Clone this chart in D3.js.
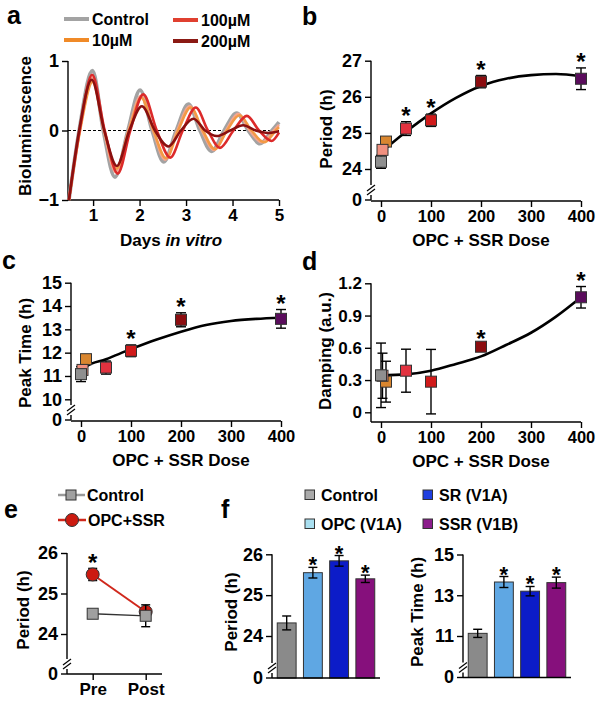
<!DOCTYPE html>
<html>
<head>
<meta charset="utf-8">
<script src="https://cdn.jsdelivr.net/npm/d3@7"></script>
<style>
  body { margin: 0; background: #fff; }
  text { font-family: "Liberation Sans", Arial, sans-serif; font-weight: bold; fill: #000; }
</style>
</head>
<body>
<svg id="fig" width="601" height="708"></svg>
<script>
// panel a - detrended bioluminescence traces, [day, value]
const traceControl = [[0.48,-1.0],[0.7,0],[0.985,0.86],[1.22,0],[1.47,-0.67],[1.75,0],[2.01,0.58],[2.27,0],[2.52,-0.45],[2.79,0],[3.05,0.38],[3.3,0],[3.55,-0.3],[3.82,0],[4.09,0.25],[4.34,0],[4.59,-0.19],[4.85,0],[5.0,0.12]];
const traceLow = [[0.48,-1.0],[0.71,0],[0.98,0.76],[1.23,0],[1.49,-0.6],[1.76,0],[2.03,0.5],[2.29,0],[2.55,-0.42],[2.81,0],[3.08,0.35],[3.34,0],[3.6,-0.28],[3.86,0],[4.12,0.24],[4.37,0],[4.63,-0.17],[4.89,0],[5.0,0.08]];
const trace10 = [[0.48,-1.0],[0.72,0],[0.99,0.7],[1.24,0],[1.5,-0.55],[1.77,0],[2.04,0.47],[2.3,0],[2.57,-0.4],[2.83,0],[3.1,0.33],[3.36,0],[3.62,-0.27],[3.88,0],[4.15,0.22],[4.41,0],[4.68,-0.17],[4.93,0],[5.0,0.05]];
const trace100 = [[0.48,-1.0],[0.71,0],[0.98,0.8],[1.25,0],[1.53,-0.62],[1.8,0],[2.08,0.52],[2.37,0],[2.66,-0.39],[2.93,0],[3.21,0.33],[3.47,0],[3.73,-0.25],[4.02,0],[4.31,0.21],[4.57,0],[4.84,-0.15],[5.0,-0.03]];
const trace200 = [[0.48,-1.0],[0.7,0],[0.97,0.73],[1.24,0],[1.51,-0.51],[1.78,0],[2.05,0.35],[2.33,0],[2.62,-0.23],[2.89,0],[3.16,0.17],[3.41,0],[3.66,-0.08],[3.95,0],[4.23,0.075],[4.5,0],[4.77,-0.035],[5.0,-0.01]];
const legendA = ["Control", "10\u00b5M", "100\u00b5M", "200\u00b5M"];

// panels b-d - dose response
const doses = [0, 3, 10, 50, 100, 200, 400];
const periodMean = [24.2, 24.53, 24.76, 25.12, 25.35, 26.42, 26.5];
const periodSem = [0.18, 0.1, 0.08, 0.19, 0.17, 0.17, 0.3];
const periodSig = [0, 0, 0, 1, 1, 1, 1];
const periodFitDose = [12, 50, 100, 150, 200, 250, 300, 350, 400];
const periodFit = [24.6, 25.03, 25.54, 25.97, 26.3, 26.5, 26.6, 26.63, 26.57];

const peakMean = [11.08, 11.26, 11.72, 11.36, 12.08, 13.41, 13.45];
const peakSem = [0.32, 0.15, 0.1, 0.28, 0.25, 0.3, 0.4];
const peakSig = [0, 0, 0, 0, 1, 1, 1];
const peakFitDose = [5, 10, 50, 100, 150, 200, 250, 300, 350, 400];
const peakFit = [11.3, 11.4, 11.72, 12.15, 12.55, 12.9, 13.19, 13.36, 13.45, 13.5];

const dampMean = [0.344, 0.34, 0.285, 0.387, 0.285, 0.61, 1.07];
const dampSem = [0.3, 0.21, 0.19, 0.2, 0.3, 0.02, 0.1];
const dampSig = [0, 0, 0, 0, 0, 1, 1];
const dampFitDose = [0, 50, 100, 150, 200, 250, 300, 350, 400];
const dampFit = [0.344, 0.353, 0.387, 0.45, 0.52, 0.626, 0.74, 0.89, 1.07];

// panel e - pre / post washout
const epochs = ["Pre", "Post"];
const ctrlPeriod = [24.5, 24.45];
const ctrlSem = [0.05, 0.27];
const opcPeriod = [25.47, 24.55];
const opcSem = [0.15, 0.1];
const opcSig = [1, 0];

// panel f - receptor-specific drugs
const groups = ["Control", "OPC (V1A)", "SR (V1A)", "SSR (V1B)"];
const barPeriod = [24.32, 25.55, 25.84, 25.4];
const barPeriodSem = [0.17, 0.13, 0.13, 0.09];
const barPeak = [11.13, 13.65, 13.2, 13.62];
const barPeakSem = [0.2, 0.27, 0.23, 0.27];
const barSig = [0, 1, 1, 1];

// colours
const doseColors = ["#8f8f8f", "#f0907f", "#d9862f", "#e2323f", "#d01a1a", "#8c0d10", "#5a0c5c"];
const traceColors = ["#a3a3a3", "#f5a58f", "#f39a45", "#dc2a2a", "#8a1010"];
const legendAColors = ["#a3a3a3", "#f08a28", "#e04030", "#8b1a14"];
const barColors = ["#8a8a8a", "#5fa7e3", "#0c1cc8", "#86107c"];
const swatchColors = ["#ababab", "#a9dff0", "#1f3fe0", "#8c1c8c"];

const svg = d3.select("#fig");
svg.append("rect").attr("width", 601).attr("height", 708).attr("fill", "#fff");
const intFmt = d3.format("d");
const yTickSize = 18;

function txt(s, x, y, size, anchor) {
    return svg.append("text").attr("x", x).attr("y", y)
        .attr("font-size", size).attr("text-anchor", anchor || "start").text(s);
}
function yLabel(s, x, y) {
    svg.append("text").attr("transform", `translate(${x},${y}) rotate(-90)`)
        .attr("text-anchor", "middle").attr("font-size", 17).text(s);
}
function styleAxis(g, size) {
    g.select(".domain").remove();
    g.selectAll("line").attr("stroke", "#000").attr("stroke-width", 1.4);
    g.selectAll("text").attr("font-size", size).attr("fill", "#000")
        .attr("font-family", '"Liberation Sans", Arial, sans-serif').attr("font-weight", "bold");
}
function line(x1, y1, x2, y2, w) {
    return svg.append("line").attr("x1", x1).attr("y1", y1).attr("x2", x2).attr("y2", y2)
        .attr("stroke", "#000").attr("stroke-width", w || 1.4);
}
// y axis with a "//" break between the lowest tick and zero
function brokenY(x, scale, ticks, zeroY) {
    const g = svg.append("g").attr("transform", `translate(${x},0)`);
    g.call(d3.axisLeft(scale).tickValues(ticks).tickFormat(intFmt).tickSizeOuter(0));
    styleAxis(g, yTickSize);
    const top = scale(d3.max(ticks));
    line(x, top, x, zeroY - 15);
    [zeroY - 12, zeroY - 8].forEach(c => line(x - 4, c + 3, x + 4, c - 3, 1.2));
    line(x, zeroY - 5, x, zeroY);
    line(x - 6, zeroY, x, zeroY);
    txt("0", x - 9, zeroY, yTickSize, "end").attr("dy", "0.32em");
}
function errBars(xs, ys, means, sems, order, cap) {
    order.forEach(i => {
        const x = xs(i), lo = ys(means[i] - sems[i]), hi = ys(means[i] + sems[i]);
        line(x, lo, x, hi, 1.4);
        line(x - cap / 2, lo, x + cap / 2, lo, 1.4);
        line(x - cap / 2, hi, x + cap / 2, hi, 1.4);
    });
}
function stars(xs, ys, means, sems, sig, size, off) {
    sig.forEach((s, i) => {
        if (!s) return;
        txt("*", xs(i), ys(means[i] + sems[i]) + off, size, "middle");
    });
}

// ---------------- panel a ----------------
const xa = d3.scaleLinear().domain([0.46, 5]).range([68, 279]);
const ya = d3.scaleLinear().domain([-1, 1]).range([200, 61]);
txt("a", 7, 24, 25);
{
    const gx = svg.append("g").attr("transform", "translate(0,200)")
        .call(d3.axisBottom(xa).tickValues([1, 2, 3, 4, 5]).tickFormat(intFmt).tickSizeOuter(0));
    styleAxis(gx, 17);
    line(68, 200, 279, 200);
    const gy = svg.append("g").attr("transform", "translate(68,0)")
        .call(d3.axisLeft(ya).tickValues([-1, 0, 1]).tickFormat(intFmt).tickSizeOuter(0));
    styleAxis(gy, yTickSize);
    line(68, 61, 68, 200);
    svg.append("line").attr("x1", 68).attr("x2", 279).attr("y1", ya(0)).attr("y2", ya(0))
        .attr("stroke", "#000").attr("stroke-width", 1).attr("stroke-dasharray", "3,2");
    const path = d3.line().x(d => xa(d[0])).y(d => ya(d[1])).curve(d3.curveMonotoneX);
    [traceControl, traceLow, trace10, trace100, trace200].forEach((t, i) => {
        svg.append("path").attr("d", path(t)).attr("fill", "none")
            .attr("stroke", traceColors[i]).attr("stroke-width", i === 0 ? 3.8 : 2.6);
    });
    const lx = [64, 64, 173, 173], ly = [19, 40, 20, 41];
    legendA.forEach((s, i) => {
        svg.append("line").attr("x1", lx[i]).attr("x2", lx[i] + 25).attr("y1", ly[i]).attr("y2", ly[i])
            .attr("stroke", legendAColors[i]).attr("stroke-width", 4);
        txt(s, lx[i] + 28, ly[i] + 5.5, 16);
    });
    yLabel("Bioluminescence", 31, 126);
    txt("Days ", 120, 246, 17).append("tspan").attr("font-style", "italic").text("in vitro");
}

// ---------------- dose panels b, c, d ----------------
function dosePanel(o) {
    const x = d3.scaleLinear().domain([-20, 400]).range([o.ax, o.ax + 210]);
    txt(o.letter, o.lx, o.ly, 25);
    const gx = svg.append("g").attr("transform", `translate(0,${o.axisY})`)
        .call(d3.axisBottom(x).tickValues([0, 100, 200, 300, 400]).tickFormat(intFmt).tickSizeOuter(0));
    styleAxis(gx, 16.5);
    line(o.ax, o.axisY, o.ax + 210, o.axisY);
    if (o.zeroY) {
        brokenY(o.ax, o.y, o.ticks, o.zeroY);
    } else {
        const gy = svg.append("g").attr("transform", `translate(${o.ax},0)`)
            .call(d3.axisLeft(o.y).tickValues(o.ticks).tickFormat(o.fmt).tickSizeOuter(0));
        styleAxis(gy, 17);
        line(o.ax, o.y(d3.max(o.ticks)), o.ax, o.axisY);
    }
    const fit = d3.line().x((d, i) => x(o.fitDose[i])).y(d => o.y(d)).curve(d3.curveMonotoneX);
    svg.append("path").attr("d", fit(o.fit)).attr("fill", "none")
        .attr("stroke", "#000").attr("stroke-width", 2.6);
    const order = [2, 1, 0, 3, 4, 5, 6];
    const xs = i => x(doses[i]);
    errBars(xs, o.y, o.mean, o.sem, order, 10);
    order.forEach(i => {
        svg.append("rect").attr("x", xs(i) - 5.5).attr("y", o.y(o.mean[i]) - 5.5)
            .attr("width", 11).attr("height", 11).attr("fill", doseColors[i])
            .attr("stroke", "#333").attr("stroke-width", 1);
    });
    stars(xs, o.y, o.mean, o.sem, o.sig, 24, 2);
    yLabel(o.title, o.tx, o.ty);
    txt("OPC + SSR Dose", x(200), o.axisY + 45, 17, "middle");
}

dosePanel({
    letter: "b", lx: 302, ly: 25, ax: 371, axisY: 201, zeroY: 200,
    y: d3.scaleLinear().domain([24, 27]).range([169, 60.7]), ticks: [24, 25, 26, 27],
    mean: periodMean, sem: periodSem, sig: periodSig, fitDose: periodFitDose, fit: periodFit,
    title: "Period (h)", tx: 332, ty: 129
});
dosePanel({
    letter: "c", lx: 2, ly: 269, ax: 71, axisY: 421, zeroY: 420,
    y: d3.scaleLinear().domain([10, 15]).range([399.3, 282.7]), ticks: [10, 11, 12, 13, 14, 15],
    mean: peakMean, sem: peakSem, sig: peakSig, fitDose: peakFitDose, fit: peakFit,
    title: "Peak Time (h)", tx: 31, ty: 353
});
dosePanel({
    letter: "d", lx: 302, ly: 270, ax: 371, axisY: 422,
    y: d3.scaleLinear().domain([0, 1.2]).range([412.3, 283.3]), ticks: [0, 0.3, 0.6, 0.9, 1.2],
    fmt: d => d === 0 ? "0" : d.toFixed(1),
    mean: dampMean, sem: dampSem, sig: dampSig, fitDose: dampFitDose, fit: dampFit,
    title: "Damping (a.u.)", tx: 331, ty: 351
});

// ---------------- panel e ----------------
{
    txt("e", 4, 518, 25);
    const x = d3.scalePoint().domain(epochs).range([92.7, 145.7]);
    const y = d3.scaleLinear().domain([24, 26]).range([634, 553]);
    const zeroY = 674;
    const gx = svg.append("g").attr("transform", `translate(0,${zeroY})`)
        .call(d3.axisBottom(x).tickSizeOuter(0));
    styleAxis(gx, 17);
    line(67, zeroY, 162, zeroY);
    brokenY(67, y, [24, 25, 26], zeroY);
    yLabel("Period (h)", 29, 610);
    const xs = i => x(epochs[i]);
    const path = d3.line().x((d, i) => xs(i)).y(d => y(d));
    svg.append("path").attr("d", path(opcPeriod)).attr("fill", "none")
        .attr("stroke", "#d0281c").attr("stroke-width", 2);
    errBars(xs, y, opcPeriod, opcSem, [0, 1], 9);
    opcPeriod.forEach((v, i) => svg.append("circle").attr("cx", xs(i)).attr("cy", y(v)).attr("r", 6.5)
        .attr("fill", "#cc1a10").attr("stroke", "#333").attr("stroke-width", 1));
    svg.append("path").attr("d", path(ctrlPeriod)).attr("fill", "none")
        .attr("stroke", "#333").attr("stroke-width", 1.3);
    errBars(xs, y, ctrlPeriod, ctrlSem, [0, 1], 9);
    ctrlPeriod.forEach((v, i) => svg.append("rect").attr("x", xs(i) - 5.5).attr("y", y(v) - 5.5)
        .attr("width", 11).attr("height", 11).attr("fill", "#a0a0a0").attr("stroke", "#333").attr("stroke-width", 1));
    stars(xs, y, opcPeriod, opcSem, opcSig, 24, 3);
    // legend
    svg.append("line").attr("x1", 58).attr("x2", 85).attr("y1", 495).attr("y2", 495)
        .attr("stroke", "#999").attr("stroke-width", 2.5);
    svg.append("rect").attr("x", 66).attr("y", 490).attr("width", 10).attr("height", 10)
        .attr("fill", "#a0a0a0").attr("stroke", "#333").attr("stroke-width", 1);
    txt("Control", 87, 501, 16);
    svg.append("line").attr("x1", 58).attr("x2", 86).attr("y1", 520).attr("y2", 520)
        .attr("stroke", "#d0281c").attr("stroke-width", 2.5);
    svg.append("circle").attr("cx", 72).attr("cy", 520).attr("r", 6.5)
        .attr("fill", "#cc1a10").attr("stroke", "#333").attr("stroke-width", 1);
    txt("OPC+SSR", 88, 526, 16);
}

// ---------------- panel f ----------------
{
    txt("f", 221, 518, 25);
    function barChart(ax, y, zeroY, vals, sems, ticks, title, tx, ty) {
        const x = d3.scaleBand().domain(groups).range([ax, ax + 108]).paddingInner(0.28).paddingOuter(0.2);
        const xs = i => x(groups[i]) + x.bandwidth() / 2;
        vals.forEach((v, i) => {
            svg.append("rect").attr("x", x(groups[i])).attr("y", y(v))
                .attr("width", x.bandwidth()).attr("height", zeroY - y(v))
                .attr("fill", barColors[i]).attr("stroke", "#333").attr("stroke-width", 1);
        });
        errBars(xs, y, vals, sems, [0, 1, 2, 3], 9);
        stars(xs, y, vals, sems, barSig, 22, 5);
        brokenY(ax, y, ticks, zeroY);
        line(ax, zeroY, ax + 108, zeroY);
        yLabel(title, tx, ty);
    }
    barChart(272, d3.scaleLinear().domain([24, 26]).range([636, 554.3]), 678,
        barPeriod, barPeriodSem, [24, 25, 26], "Period (h)", 237, 612);
    barChart(463, d3.scaleLinear().domain([11, 15]).range([636, 554.5]), 677.5,
        barPeak, barPeakSem, [11, 13, 15], "Peak Time (h)", 423, 612);
    const sx = [305, 305, 423, 423], sy = [490, 519, 490, 519];
    groups.forEach((g, i) => {
        svg.append("rect").attr("x", sx[i]).attr("y", sy[i]).attr("width", 9.5).attr("height", 9.5)
            .attr("fill", swatchColors[i]).attr("stroke", "#333").attr("stroke-width", 1);
        txt(g, sx[i] + 16, sy[i] + 11, 16);
    });
}
</script>
</body>
</html>
